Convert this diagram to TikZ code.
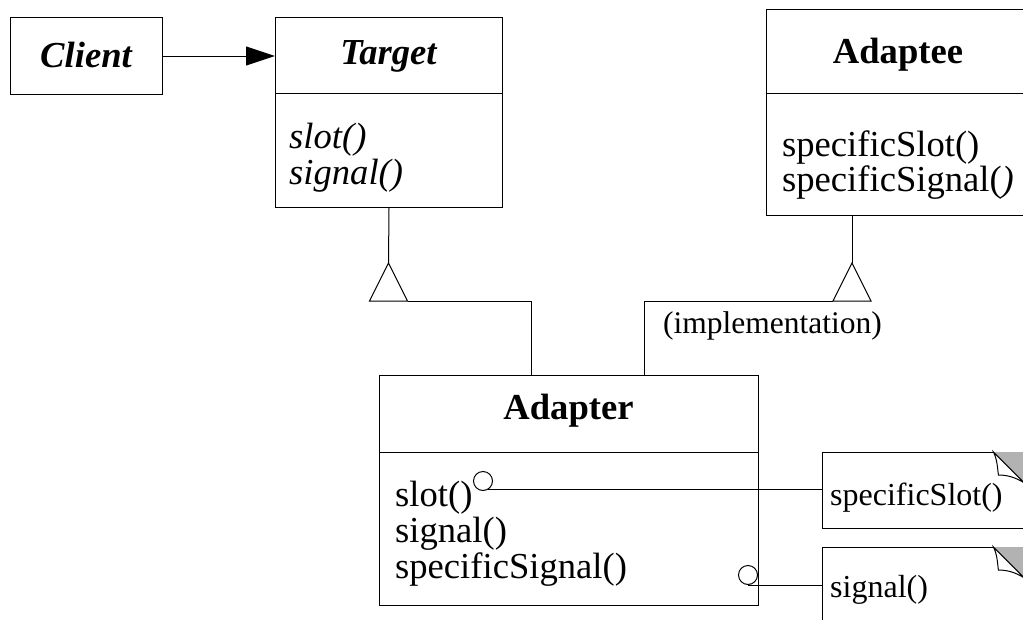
\documentclass[tikz,border=0pt]{standalone}
\usepackage{fontspec}
\setmainfont{Liberation Serif}
\usetikzlibrary{arrows.meta,calc}

\tikzset{
  line/.style={line width=1pt},
  box/.style={draw, line, inner sep=0pt, anchor=north west},
  area/.style={inner sep=0pt, anchor=north west},
  big/.style={font=\fontsize{36.6}{40}\selectfont},
  small/.style={font=\fontsize{32}{36}\selectfont},
  member/.style={big, anchor=base west, inner sep=0pt},
  notetext/.style={small, anchor=base west, inner sep=0pt},
  title/.style={anchor=base, inner sep=0pt, font=\fontsize{36.6}{40}\selectfont\bfseries},
  abstract/.style={title, font=\fontsize{36.6}{40}\selectfont\bfseries\itshape},
  port/.style={circle, draw, line, fill=white, minimum size=19pt, inner sep=0pt},
  fold/.style={fill=gray!60},
}

\begin{document}
\begin{tikzpicture}[x=1pt, y=-1pt, line join=miter]
\useasboundingbox (0,0) rectangle (1023,619);
\clip (0,0) rectangle (1023,619);
\fill[white] (0,0) rectangle (1023,619);

% Client
\node[box, minimum width=152pt, minimum height=77pt] (client) at (10,17) {};
\node[abstract] (clientname) at (86,67) {Client};

% Target
\node[box, minimum width=227pt, minimum height=76pt] (thead) at (275,17) {};
\node[box, minimum width=227pt, minimum height=114pt] (tbody) at (275,93) {};
\node[abstract] (tname) at (388.5,64) {Target};
\node[member, font=\fontsize{36.6}{40}\selectfont\itshape] (tslot) at (289,148) {slot()};
\node[member, font=\fontsize{36.6}{40}\selectfont\itshape] (tsignal) at (289,184) {signal()};

% Adaptee
\node[box, minimum width=264pt, minimum height=84pt] (ahead) at (766,9) {};
\node[box, minimum width=264pt, minimum height=122pt] (abody) at (766,93) {};
\node[title] (aname) at (898,63) {Adaptee};
\node[member] (aslot) at (782,156) {specificSlot()};
\node[member] (asignal) at (782,191) {specificSignal(\textit{)}};

% Adapter
\node[box, minimum width=379pt, minimum height=77pt] (dhead) at (379,375) {};
\node[box, minimum width=379pt, minimum height=153pt] (dbody) at (379,452) {};
\node[title] (dname) at (568.5,419) {Adapter};
\node[member] (dslot) at (395,506) {slot()};
\node[member] (dsignal) at (395,542) {signal()};
\node[member] (dspec) at (395,578) {specificSignal()};

% Client uses Target
\draw[line, -{Triangle[length=29pt, width=19pt]}] (client.east) -- (client.east -| thead.west);

% Adapter inherits Target
\coordinate (t1) at (388.5,263);
\coordinate (k1) at (531,301);
\draw[line] (tbody.south) -- (t1);
\draw[line] (t1) -- ++(-19,38) -- ++(38,0) -- cycle;
\draw[line] ($(t1)+(19,38)$) -- (k1) -- (k1 |- dhead.north);

% Adapter inherits Adaptee (implementation)
\coordinate (t2) at (852,263);
\coordinate (k2) at (644,301);
\draw[line] (t2 |- abody.south) -- (t2);
\draw[line] (t2) -- ++(-19,38) -- ++(38,0) -- cycle;
\draw[line] ($(t2)+(-19,38)$) -- (k2) -- (k2 |- dhead.north);
\node[anchor=base west, inner sep=0pt, font=\fontsize{31.5}{35}\selectfont] (impl) at (663,333) {(implementation)};

% Notes with folded corners
\node[area, minimum width=202pt, minimum height=76pt] (n1) at (822,452) {};
\node[area, minimum width=202pt, minimum height=100pt] (n2) at (822,547) {};
\foreach \n in {n1,n2} {
  \draw[line] (\n.north west) rectangle (\n.south east);
  \fill[fold] ($(\n.north east)+(-31,0)$) -- (\n.north east) -- ($(\n.north east)+(0,31)$) -- cycle;
  \draw[line, fill=white] ($(\n.north east)+(-31,0)$)
    .. controls ($(\n.north east)+(-27,8)$) and ($(\n.north east)+(-27,16)$) .. ($(\n.north east)+(-26,23)$)
    .. controls ($(\n.north east)+(-16,23)$) and ($(\n.north east)+(-8,26)$) .. ($(\n.north east)+(0,31)$)
    -- cycle;
}
\node[notetext] (n1text) at (830,505) {specificSlot()};
\node[notetext] (n2text) at (830,597) {signal()};

% Ports linked to notes
\node[port] (p1) at (483,481) {};
\draw[line] (p1.-60) -- (p1.-60 -| n1.west);
\node[port, fill=none] (p2) at (748,575) {};
\draw[line] (p2.south) -- (p2.south -| n2.west);
\end{tikzpicture}
\end{document}
